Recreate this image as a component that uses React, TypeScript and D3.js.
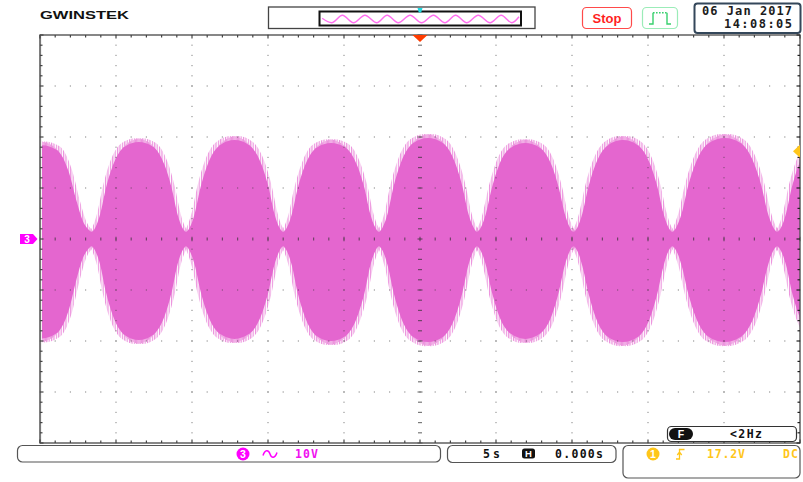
import React from 'react';
import * as d3 from 'd3';

const W = 803;
const H = 482;

// Channel 3 envelope: time (s), upper peak (V), lower peak magnitude (V)
const envTime = [
  -26.0, -24.9, -23.91, -23.08, -22.59, -22.19, -21.86, -21.6,
  -21.35, -21.04, -20.67, -20.21, -19.43, -18.5, -17.57, -16.79, -16.33, -15.96, -15.65, -15.4,
  -15.14, -14.82, -14.44, -13.96, -13.16, -12.2, -11.24, -10.44, -9.96, -9.58, -9.26, -9.0,
  -8.75, -8.43, -8.06, -7.58, -6.8, -5.85, -4.9, -4.12, -3.64, -3.27, -2.95, -2.7,
  -2.44, -2.12, -1.74, -1.25, -0.44, 0.53, 1.5, 2.3, 2.79, 3.17, 3.5, 3.75,
  4.01, 4.33, 4.71, 5.18, 5.98, 6.93, 7.88, 8.68, 9.15, 9.53, 9.85, 10.1,
  10.36, 10.68, 11.07, 11.56, 12.37, 13.35, 14.33, 15.14, 15.63, 16.02, 16.34, 16.6,
  16.88, 17.22, 17.63, 18.15, 19.01, 20.05, 21.09, 21.95, 22.47, 22.88, 23.22, 23.5,
  23.76, 24.08, 24.46, 24.94, 25.74, 26.7,
];
const envUpper = [
  18.0, 18.4, 17.5, 12.9, 7.4, 3.6, 2.0, 1.4,
  2.3, 4.9, 9.9, 14.4, 18.1, 19.0, 18.1, 14.4, 9.9, 4.9, 2.3, 1.4,
  2.3, 5.0, 10.1, 14.7, 18.4, 19.4, 18.4, 14.7, 10.1, 5.0, 2.3, 1.4,
  2.3, 4.9, 9.8, 14.3, 17.9, 18.8, 17.9, 14.3, 9.8, 4.9, 2.3, 1.4,
  2.4, 5.1, 10.3, 15.0, 18.8, 19.8, 18.8, 15.0, 10.3, 5.1, 2.4, 1.4,
  2.3, 4.9, 9.8, 14.3, 17.9, 18.8, 17.9, 14.3, 9.8, 4.9, 2.3, 1.4,
  2.3, 5.0, 10.1, 14.7, 18.4, 19.4, 18.4, 14.7, 10.1, 5.0, 2.3, 1.4,
  2.4, 5.1, 10.3, 15.0, 18.8, 19.8, 18.8, 15.0, 10.3, 5.1, 2.4, 1.4,
  2.3, 5.0, 10.1, 14.7, 18.4, 19.4,
];
const envLower = [
  19.0, 19.5, 18.5, 13.7, 7.8, 3.8, 2.1, 1.4,
  2.4, 5.1, 10.3, 15.0, 18.8, 19.8, 18.8, 15.0, 10.3, 5.1, 2.4, 1.4,
  2.4, 5.1, 10.2, 14.9, 18.6, 19.6, 18.6, 14.9, 10.2, 5.1, 2.4, 1.4,
  2.4, 5.2, 10.4, 15.2, 19.0, 20.0, 19.0, 15.2, 10.4, 5.2, 2.4, 1.4,
  2.4, 5.3, 10.5, 15.4, 19.2, 20.2, 19.2, 15.4, 10.5, 5.3, 2.4, 1.4,
  2.4, 5.1, 10.2, 14.9, 18.6, 19.6, 18.6, 14.9, 10.2, 5.1, 2.4, 1.4,
  2.4, 5.3, 10.5, 15.4, 19.2, 20.2, 19.2, 15.4, 10.5, 5.3, 2.4, 1.4,
  2.4, 5.3, 10.5, 15.4, 19.2, 20.2, 19.2, 15.4, 10.5, 5.3, 2.4, 1.4,
  2.4, 5.1, 10.3, 15.0, 18.8, 19.8,
];

// Memory overview trace: time (s) and normalised level at each crest/trough
const ovTime = [-24.7, -22.3, -19.6, -16.8, -13.9, -10.9, -8.3, -5.5, -2.5, 0.4, 3.4, 6.3, 9.0, 11.8, 14.7, 17.7, 20.5, 23.2, 25.0];
const ovLevel = [0.2, -1, 1, -1, 1, -1, 1, -1, 1, -1, 1, -1, 1, -1, 1, -1, 1, -1, 0.6];

// Settings readout
const ch3Scale = '10V';
const timebase = '5s';
const hPosition = '0.000s';
const trigLevel = 17.2;
const trigLevelText = '17.2V';
const trigCoupling = 'DC';
const freqText = '<2Hz';
const dateText = '06 Jan 2017';
const timeText = '14:08:05';

const MONO = "'DejaVu Sans Mono', monospace";
const SANS = "'Liberation Sans', Arial, sans-serif";
const PINK = '#e466cf';
const MAGENTA = '#ff00ff';
const GOLD = '#ffc61a';

export default function App() {
  const x = d3.scaleLinear().domain([-25, 25]).range([40, 800]);
  const y = d3.scaleLinear().domain([-40, 40]).range([443, 35]);
  const cx = x(0);
  const cy = y(0);

  const rows = envTime.map((t, i) => ({ t, hi: envUpper[i], lo: -envLower[i] }));
  const area = d3
    .area<{ t: number; hi: number; lo: number }>()
    .x((d) => x(d.t))
    .y0((d) => y(d.lo))
    .y1((d) => y(d.hi))
    .curve(d3.curveMonotoneX);
  const tracePath = area(rows) || '';

  // Overview window
  const ox = d3.scaleLinear().domain([-25, 25]).range([321, 519]);
  const oy = d3.scaleLinear().domain([-1, 1]).range([22.7, 15.3]);
  const ovLine = d3
    .line<number>()
    .x((_, i) => ox(ovTime[i]))
    .y((d) => oy(d))
    .curve(d3.curveMonotoneX);
  const ovPath = ovLine(ovLevel) || '';

  const minorX = x.ticks(50); // every 1 s (1/5 div)
  const minorY = y.ticks(40); // every 2 V (1/5 div)
  const majorX = x.ticks(10); // every 5 s
  const majorY = y.ticks(8); // every 10 V

  const dots: React.ReactNode[] = [];
  majorX.forEach((tv) => {
    if (tv === -25 || tv === 25 || tv === 0) return;
    minorY.forEach((vv, j) => {
      dots.push(<rect key={`vx${tv}_${j}`} x={x(tv) - 0.6} y={y(vv) - 0.6} width={1.2} height={1.2} fill="#333" opacity={0.5} />);
    });
  });
  majorY.forEach((vv) => {
    if (vv === -40 || vv === 40 || vv === 0) return;
    minorX.forEach((tv, j) => {
      dots.push(<rect key={`hy${vv}_${j}`} x={x(tv) - 0.6} y={y(vv) - 0.6} width={1.2} height={1.2} fill="#333" opacity={0.5} />);
    });
  });

  const cross: React.ReactNode[] = [];
  minorY.forEach((vv, j) => {
    const major = vv % 10 === 0;
    const w = major ? 5 : 4;
    cross.push(<rect key={`cv${j}`} x={cx - w / 2} y={y(vv) - 0.6} width={w} height={1.2} fill="#333" opacity={0.65} />);
  });
  minorX.forEach((tv, j) => {
    const major = tv % 5 === 0;
    const h = major ? 4.5 : 3;
    cross.push(<rect key={`ch${j}`} x={x(tv) - 0.6} y={cy - h / 2} width={1.2} height={h} fill="#333" opacity={0.65} />);
  });

  const borderTicks: React.ReactNode[] = [];
  minorX.forEach((tv, j) => {
    const len = tv % 5 === 0 ? 3.5 : 2.5;
    borderTicks.push(<line key={`bt${j}`} x1={x(tv)} x2={x(tv)} y1={35} y2={35 + len} stroke="#444" strokeWidth={1.2} />);
    borderTicks.push(<line key={`bb${j}`} x1={x(tv)} x2={x(tv)} y1={443} y2={443 - len} stroke="#444" strokeWidth={1.2} />);
  });
  minorY.forEach((vv, j) => {
    const len = vv % 10 === 0 ? 3.5 : 2.5;
    borderTicks.push(<line key={`bl${j}`} x1={40} x2={40 + len} y1={y(vv)} y2={y(vv)} stroke="#444" strokeWidth={1.2} />);
    borderTicks.push(<line key={`br${j}`} x1={800} x2={800 - len} y1={y(vv)} y2={y(vv)} stroke="#222" strokeWidth={1.2} />);
  });

  const trigY = y(trigLevel);

  return (
    <svg width={W} height={H} style={{ position: 'absolute', left: 0, top: 0, background: '#fff' }}>
      <defs>
        <clipPath id="plotClip">
          <rect x={42} y={36} width={758} height={406} />
        </clipPath>
        <pattern id="streaks" width={2.4} height={6} patternUnits="userSpaceOnUse">
          <rect x={0} y={0} width={1.2} height={6} fill="#eb8fdc" />
        </pattern>
      </defs>

      <rect x={0} y={0} width={W} height={H} fill="#fff" />

      {/* channel 3 trace */}
      <g clipPath="url(#plotClip)">
        <g transform={`translate(0,${cy}) scale(1,1.04) translate(0,${-cy})`}>
          <path d={tracePath} fill="url(#streaks)" transform="translate(-3,0)" />
          <path d={tracePath} fill="url(#streaks)" transform="translate(3,0)" />
        </g>
        <path d={tracePath} fill={PINK} />
      </g>

      {/* graticule */}
      <g>{dots}</g>
      <g>{cross}</g>
      <rect x={40} y={35} width={760} height={408} fill="none" stroke="#555" strokeWidth={1.4} />
      <line x1={40.3} x2={40.3} y1={35} y2={443} stroke="#777" strokeWidth={1.6} />
      <g>{borderTicks}</g>

      {/* trigger position marker */}
      <path d={`M${cx - 7.5},35 L${cx + 7.5},35 L${cx},42 Z`} fill="#ff3c00" />
      {/* trigger level marker */}
      <path d={`M800,${trigY - 6.5} L800,${trigY + 6.5} L793,${trigY} Z`} fill={GOLD} />
      {/* channel 3 ground marker */}
      <path d={`M20,${cy - 5} L33,${cy - 5} L37.5,${cy} L33,${cy + 5} L20,${cy + 5} Z`} fill={MAGENTA} />
      <text x={27} y={cy + 3.5} fontFamily={SANS} fontWeight={700} fontSize={10} fill="#fff" textAnchor="middle">3</text>

      {/* header */}
      <text x={40} y={18.5} fontFamily={SANS} fontWeight={900} fontSize={11.5} fill="#111" textLength={89} lengthAdjust="spacingAndGlyphs">GWINSTEK</text>

      <rect x={268.5} y={7} width={266.5} height={21.5} fill="#fff" stroke="#444" strokeWidth={1.3} />
      <rect x={319.5} y={11.5} width={201.5} height={14} fill="#fff" stroke="#111" strokeWidth={2} />
      <path d={ovPath} fill="none" stroke="#ff6ef0" strokeWidth={1.4} />
      <path d={`M${ox(0) - 2.5},8 L${ox(0) + 2.5},8 L${ox(0) + 1.2},12.5 L${ox(0) - 1.2},12.5 Z`} fill="#1fd8e0" />

      <rect x={582.5} y={7.5} width={49} height={21} rx={4} fill="#fff" stroke="#ff4a4a" strokeWidth={1.2} />
      <text x={607} y={22.5} fontFamily={SANS} fontWeight={700} fontSize={13} fill="#ff1f1f" textAnchor="middle">Stop</text>

      <rect x={642.5} y={7.5} width={35} height={21} rx={4} fill="#fff" stroke="#9becb8" strokeWidth={1.2} />
      <path d="M649,24 H653 V12.8 M667,12.8 V24 H671" fill="none" stroke="#38d06e" strokeWidth={1.4} />
      <line x1={653} x2={667} y1={12.8} y2={12.8} stroke="#38d06e" strokeWidth={1.4} strokeDasharray="1.6 1.4" />

      <rect x={694.5} y={3.5} width={106} height={29.5} rx={3} fill="#fff" stroke="#34475a" strokeWidth={2} />
      <text x={702} y={15} fontFamily={MONO} fontWeight={700} fontSize={12} fill="#1c1c1c" textLength={90} lengthAdjust="spacing">{dateText}</text>
      <text x={724} y={28} fontFamily={MONO} fontWeight={700} fontSize={12} fill="#1c1c1c" textLength={68} lengthAdjust="spacing">{timeText}</text>

      {/* frequency counter */}
      <rect x={667.5} y={426.5} width={129} height={15} rx={4} fill="#fff" stroke="#333" strokeWidth={1.2} />
      <rect x={669} y={428} width={24} height={12} rx={6} fill="#111" />
      <text x={681} y={437.8} fontFamily={SANS} fontWeight={700} fontSize={10.5} fill="#fff" textAnchor="middle">F</text>
      <text x={730} y={438} fontFamily={MONO} fontWeight={700} fontSize={11.5} fill="#111" textLength={32} lengthAdjust="spacing">{freqText}</text>

      {/* channel readout */}
      <rect x={17.5} y={445.5} width={423} height={16.5} rx={5} fill="#fff" stroke="#555" strokeWidth={1.2} />
      <circle cx={243} cy={454} r={6.5} fill={MAGENTA} />
      <text x={243} y={457.7} fontFamily={SANS} fontWeight={700} fontSize={10.5} fill="#fff" textAnchor="middle">3</text>
      <path d="M263,455.5 C265,449.5 268.5,449.5 270,454 C271.5,458.5 275,458.5 277,452.5" fill="none" stroke={MAGENTA} strokeWidth={1.5} />
      <text x={295} y={458} fontFamily={MONO} fontWeight={700} fontSize={11.5} fill="#f010f0" textLength={23} lengthAdjust="spacing">{ch3Scale}</text>

      {/* horizontal readout */}
      <rect x={447.5} y={445.5} width={168.5} height={17} rx={5} fill="#fff" stroke="#555" strokeWidth={1.2} />
      <text x={483} y={458} fontFamily={MONO} fontWeight={700} fontSize={11.5} fill="#111" textLength={17} lengthAdjust="spacing">{timebase}</text>
      <rect x={522} y={448.5} width={13} height={10} rx={2.5} fill="#111" />
      <text x={528.5} y={457.2} fontFamily={SANS} fontWeight={700} fontSize={9.5} fill="#fff" textAnchor="middle">H</text>
      <text x={555} y={458} fontFamily={MONO} fontWeight={700} fontSize={11.5} fill="#111" textLength={48} lengthAdjust="spacing">{hPosition}</text>

      {/* trigger readout */}
      <rect x={623} y={445.5} width={177} height={32.5} rx={5} fill="#fff" stroke="#555" strokeWidth={1.2} />
      <circle cx={653} cy={454} r={6.5} fill={GOLD} />
      <text x={653} y={457.7} fontFamily={SANS} fontWeight={700} fontSize={10.5} fill="#fff" textAnchor="middle">1</text>
      <path d="M676,459 H679.5 V449.5 H684.5 M677.3,455 L679.5,452 L681.7,455" fill="none" stroke={GOLD} strokeWidth={1.3} />
      <text x={707} y={458} fontFamily={MONO} fontWeight={700} fontSize={11.5} fill={GOLD} textLength={38} lengthAdjust="spacing">{trigLevelText}</text>
      <text x={783} y={458} fontFamily={MONO} fontWeight={700} fontSize={11.5} fill={GOLD} textLength={15} lengthAdjust="spacing">{trigCoupling}</text>
    </svg>
  );
}
